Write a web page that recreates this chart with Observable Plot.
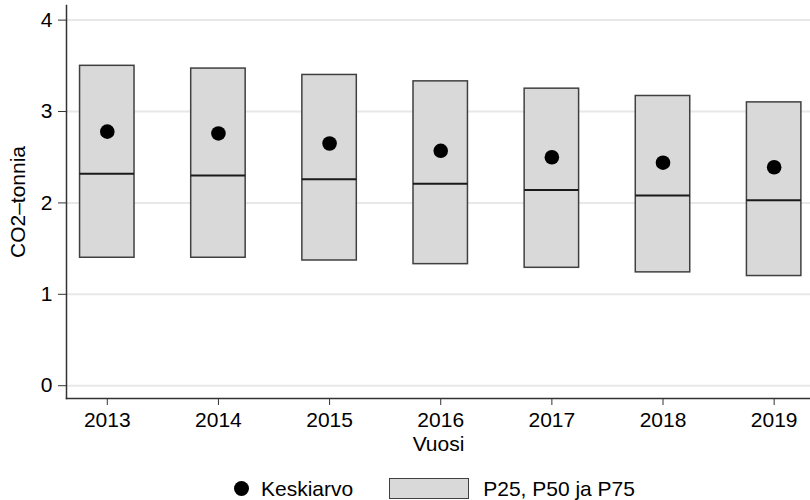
<!DOCTYPE html>
<html>
<head>
<meta charset="utf-8">
<script src="https://cdn.jsdelivr.net/npm/d3@7"></script>
<script src="https://cdn.jsdelivr.net/npm/@observablehq/plot@0.6"></script>
<style>
  html, body { margin: 0; padding: 0; background: #fff; }
  body { width: 810px; height: 500px; overflow: hidden; font-family: "Liberation Sans", Arial, Helvetica, sans-serif; }
  #legend { display: flex; align-items: center; height: 21px; margin-top: 18px; padding-left: 234px; font-size: 21px; color: #000; }
  #legend .dot { width: 15px; height: 15px; border-radius: 50%; background: #000; }
  #legend .box { width: 78px; height: 19px; background: #d9d9d9; border: 1px solid #404040; }
</style>
</head>
<body>
<div id="chart"></div>
<div id="legend">
  <span class="dot"></span><span style="margin-left:12px">Keskiarvo</span>
  <span class="box" style="margin-left:36px"></span><span style="margin-left:14px">P25, P50 ja P75</span>
</div>
<script>
const years = [2013, 2014, 2015, 2016, 2017, 2018, 2019];
const p25   = [1.40, 1.40, 1.37, 1.33, 1.29, 1.24, 1.20];
const p50   = [2.32, 2.30, 2.26, 2.21, 2.14, 2.08, 2.03];
const p75   = [3.50, 3.47, 3.40, 3.33, 3.25, 3.17, 3.10];
const means = [2.78, 2.76, 2.65, 2.57, 2.50, 2.44, 2.39];
const yTicks = [0, 1, 2, 3, 4];
const yLabel = "CO2–tonnia";
const xLabel = "Vuosi";

const halfWidth = 0.245;
const data = years.map((y, i) => ({year: y, p25: p25[i], p50: p50[i], p75: p75[i], mean: means[i]}));
const xDomain = [2012.633, 2019.327];
const yDomain = [-0.14, 4.16];

const chart = Plot.plot({
  width: 810,
  height: 460,
  marginLeft: 66,
  marginRight: 0,
  marginTop: 5,
  marginBottom: 62,
  style: {fontFamily: '"Liberation Sans", Arial, Helvetica, sans-serif', fontSize: "21px", color: "#000", background: "#fff"},
  x: {domain: xDomain},
  y: {domain: yDomain},
  marks: [
    Plot.ruleY(yTicks, {stroke: "#e8e8e8", strokeWidth: 2}),
    Plot.rect(data, {x1: d => d.year - halfWidth, x2: d => d.year + halfWidth, y1: "p25", y2: "p75", fill: "#d9d9d9", stroke: "#404040", strokeWidth: 1.5}),
    Plot.ruleY(data, {x1: d => d.year - halfWidth, x2: d => d.year + halfWidth, y: "p50", stroke: "#1a1a1a", strokeWidth: 2}),
    Plot.dot(data, {x: "year", y: "mean", r: 7.3, fill: "#000", stroke: null}),
    Plot.axisY({ticks: yTicks, tickFormat: d => String(d), tickSize: 8, tickPadding: 6, stroke: "#333", label: yLabel, labelAnchor: "center", labelArrow: false, labelOffset: 56, fontSize: 21}),
    Plot.axisX({ticks: years, tickFormat: d => String(d), tickSize: 7, tickPadding: 7, stroke: "#333", label: xLabel, labelAnchor: "center", labelOffset: 52, labelArrow: false, fontSize: 21}),
    Plot.frame({anchor: "left", stroke: "#333", strokeWidth: 1.5}),
    Plot.frame({anchor: "bottom", stroke: "#333", strokeWidth: 1.5})
  ]
});
document.getElementById("chart").appendChild(chart);
</script>
</body>
</html>
